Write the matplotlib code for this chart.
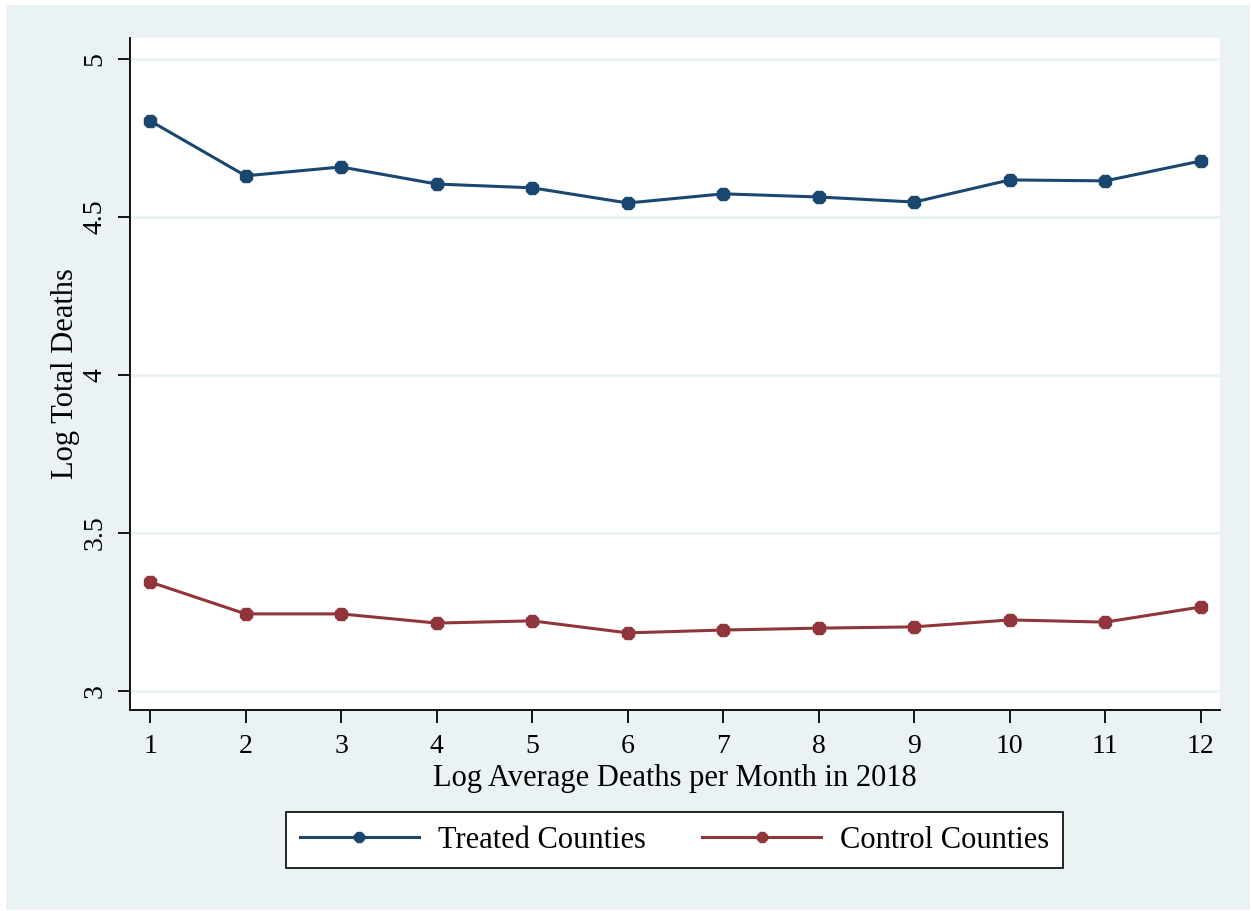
import matplotlib
matplotlib.use("Agg")
import matplotlib.pyplot as plt
from matplotlib.patches import Rectangle

x_vals = [1, 2, 3, 4, 5, 6, 7, 8, 9, 10, 11, 12]
treated = [4.804, 4.630, 4.658, 4.604, 4.592, 4.544, 4.573, 4.563, 4.547, 4.617, 4.614, 4.677]
control = [3.345, 3.244, 3.244, 3.215, 3.222, 3.184, 3.193, 3.199, 3.203, 3.225, 3.218, 3.266]
y_ticks = [3, 3.5, 4, 4.5, 5]
y_tick_labels = ["3", "3.5", "4", "4.5", "5"]

W, H = 1251, 911
fig = plt.figure(figsize=(W / 100, H / 100), dpi=100, facecolor="white")
bg = "#eaf2f3"
fig.patches.append(Rectangle((6 / W, 1 - 910 / H), (1250 - 6) / W, (910 - 5) / H,
                             transform=fig.transFigure, facecolor=bg, edgecolor="none", zorder=-10))

ax = fig.add_axes([130 / W, 1 - 710 / H, (1220 - 130) / W, (710 - 38) / H])
ax.set_facecolor("white")
for s in ["top", "right"]:
    ax.spines[s].set_visible(False)
for s in ["left", "bottom"]:
    ax.spines[s].set_linewidth(1.3)
    ax.spines[s].set_color("black")

navy = "#1a476f"
maroon = "#90353b"
ax.plot(x_vals, treated, color=navy, lw=2.2, marker="8", ms=10, label="Treated Counties", zorder=3)
ax.plot(x_vals, control, color=maroon, lw=2.2, marker="8", ms=10, label="Control Counties", zorder=3)

serif = "Liberation Serif"
ax.set_xlim(0.79, 12.2)
ax.set_ylim(2.94, 5.066)
ax.set_yticks(y_ticks)
ax.set_yticklabels(y_tick_labels, rotation=90, va="center", family=serif, fontsize=20)
ax.set_xticks(x_vals)
ax.set_xticklabels([str(v) for v in x_vals], family=serif, fontsize=20)
ax.grid(axis="y", color=bg, lw=2.2, zorder=0)
ax.tick_params(axis="x", direction="out", length=9, width=1.3, color="black", pad=8)
ax.tick_params(axis="y", direction="out", length=9, width=1.3, color="black", pad=7)

ax.set_xlabel("Log Average Deaths per Month in 2018", family=serif, fontsize=22, labelpad=4)
ax.set_ylabel("Log Total Deaths", family=serif, fontsize=22, labelpad=2)

leg = fig.legend(loc="center", bbox_to_anchor=((281 + 1068) / 2 / W, 1 - 840 / H), ncol=2,
                 prop={"family": serif, "size": 22}, frameon=True, fancybox=False,
                 edgecolor="black", facecolor="white", framealpha=1, handlelength=3.9,
                 columnspacing=1.85, borderpad=0.45, handletextpad=0.62, borderaxespad=0)
leg.get_frame().set_linewidth(1.2)
for h in leg.legend_handles:
    h.set_markersize(8)

fig.savefig("out.png", dpi=100, facecolor="white")
